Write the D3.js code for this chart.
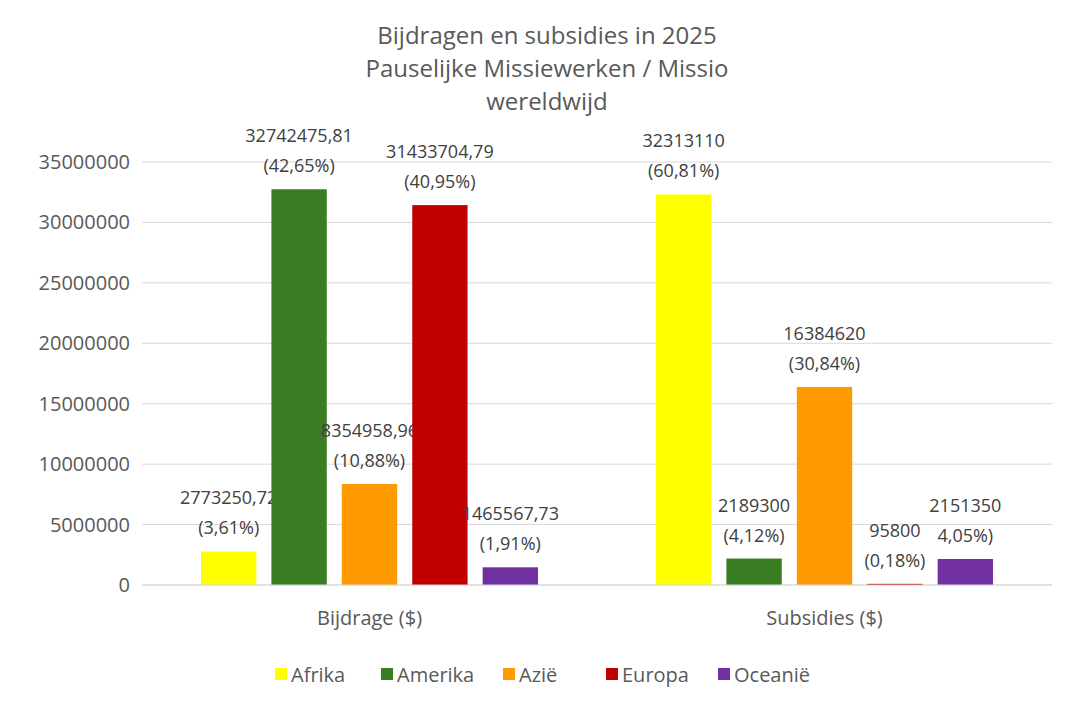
<!DOCTYPE html>
<html><head><meta charset="utf-8">
<script src="https://cdn.jsdelivr.net/npm/d3@7"></script>
<style>body{margin:0;background:#fff}text{font-family:"Open Sans","Liberation Sans",sans-serif}</style>
</head><body><svg id="c" width="1079" height="709"></svg>
<script>
const groups = ["Bijdrage ($)", "Subsidies ($)"];
const regions = ["Afrika", "Amerika", "Azië", "Europa", "Oceanië"];
const colors = ["#ffff00", "#3a7d22", "#ff9900", "#c00000", "#7030a0"];
const bijdrage = [2773250.72, 32742475.81, 8354958.96, 31433704.79, 1465567.73];
const subsidies = [32313110, 2189300, 16384620, 95800, 2151350];
const bijdrageLabels = ["2773250,72", "32742475,81", "8354958,96", "31433704,79", "1465567,73"];
const bijdragePct = ["(3,61%)", "(42,65%)", "(10,88%)", "(40,95%)", "(1,91%)"];
const subsidiesLabels = ["32313110", "2189300", "16384620", "95800", "2151350"];
const subsidiesPct = ["(60,81%)", "(4,12%)", "(30,84%)", "(0,18%)", "4,05%)"];
const yTicks = [0, 5000000, 10000000, 15000000, 20000000, 25000000, 30000000, 35000000];

const svg = d3.select("#c");
const L = 142, R = 1052, T = 162, B = 585;
const y = d3.scaleLinear().domain([0, 35000000]).range([B, T]);
const x0 = d3.scaleBand().domain(groups).range([L, R]).paddingInner(0).paddingOuter(0);
const x1 = d3.scaleBand().domain(regions).range([59, x0.bandwidth() - 59]).paddingInner(0.214).paddingOuter(0);

const title = ["Bijdragen en subsidies in 2025", "Pauselijke Missiewerken / Missio", "wereldwijd"];
svg.selectAll(".t").data(title).join("text").attr("x", 547).attr("y", (d, i) => 44 + i * 33)
  .attr("text-anchor", "middle").attr("font-size", 24).attr("fill", "#595959").text(d => d);

svg.append("g").selectAll("line").data(yTicks).join("line")
  .attr("x1", L).attr("x2", R).attr("y1", d => y(d)).attr("y2", d => y(d))
  .attr("stroke", "#d9d9d9").attr("stroke-width", 1);
svg.append("g").selectAll("text").data(yTicks).join("text")
  .attr("x", 130).attr("y", d => y(d) + 7).attr("text-anchor", "end")
  .attr("font-size", 20).attr("fill", "#595959").text(d => d);

const data = [
  {g: groups[0], vals: bijdrage, labs: bijdrageLabels, pcts: bijdragePct},
  {g: groups[1], vals: subsidies, labs: subsidiesLabels, pcts: subsidiesPct}
];
data.forEach(s => {
  const g = svg.append("g").attr("transform", `translate(${x0(s.g)},0)`);
  regions.forEach((r, i) => {
    g.append("rect").attr("x", x1(r)).attr("width", x1.bandwidth())
      .attr("y", y(s.vals[i])).attr("height", B - y(s.vals[i])).attr("fill", colors[i]);
    const cx = x1(r) + x1.bandwidth() / 2;
    g.append("text").attr("x", cx).attr("y", y(s.vals[i]) - 47).attr("text-anchor", "middle")
      .attr("font-size", 18).attr("fill", "#404040").text(s.labs[i]);
    g.append("text").attr("x", cx).attr("y", y(s.vals[i]) - 17).attr("text-anchor", "middle")
      .attr("font-size", 18).attr("fill", "#404040").text(s.pcts[i]);
  });
  svg.append("text").attr("x", x0(s.g) + x0.bandwidth() / 2).attr("y", 625).attr("text-anchor", "middle")
    .attr("font-size", 20).attr("fill", "#595959").text(s.g);
});
svg.append("line").attr("x1", L).attr("x2", R).attr("y1", B).attr("y2", B).attr("stroke", "#d9d9d9");

const lx = [275, 381, 503, 606, 718];
const lg = svg.append("g");
regions.forEach((r, i) => {
  lg.append("rect").attr("x", lx[i]).attr("y", 668).attr("width", 12).attr("height", 12).attr("fill", colors[i]);
  lg.append("text").attr("x", lx[i] + 16).attr("y", 682).attr("font-size", 20).attr("fill", "#595959").text(r);
});
</script></body></html>
